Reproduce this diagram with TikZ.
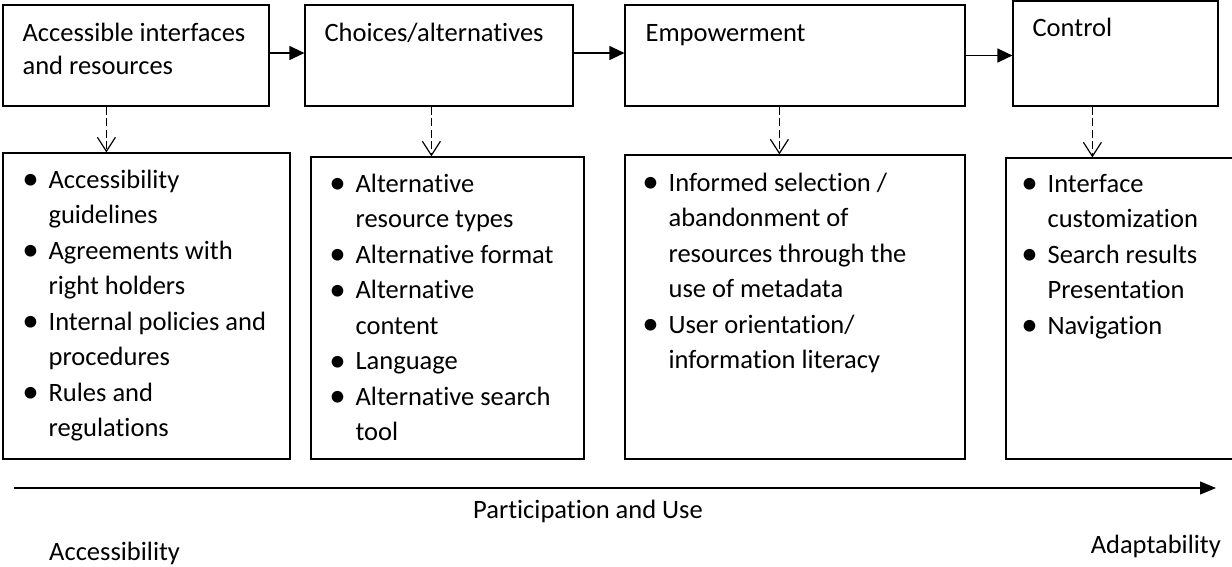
\documentclass[tikz,border=0pt]{standalone}
\usepackage{fontspec}
\setmainfont{Carlito}[Ligatures={NoCommon}]
\usetikzlibrary{arrows.meta,calc}
% bullet hung in the left margin of a list line
\newcommand\bul{\leavevmode\llap{\makebox[36pt][c]{\raisebox{-1.5pt}{\fontsize{33}{0}\selectfont\textbullet}}}}
\begin{document}
\begin{tikzpicture}[x=1pt,y=-1pt,
  box/.style={draw=black, line width=1.2pt, inner sep=0pt},
  head/.style={inner sep=0pt, anchor=base west, font=\fontsize{26.5}{33}\selectfont},
  items/.style={inner sep=0pt, anchor=base west, font=\fontsize{26.5}{35.5}\selectfont},
  lbl/.style={inner sep=0pt, font=\fontsize{26.5}{33}\selectfont},
  flow/.style={-{Triangle[length=15pt,width=14pt]}, line width=1.2pt},
  dep/.style={dash pattern=on 8pt off 3.5pt, line width=1.6pt,
    -{Straight Barb[length=14pt,width=18pt,line width=1.2pt]}},
]
\useasboundingbox (0,0) rectangle (1232,566);

% stage boxes
\node[box, minimum width=266pt, minimum height=101pt] (t1) at (136,55.5) {};
\node[box, minimum width=268pt, minimum height=101pt] (t2) at (439,55.5) {};
\node[box, minimum width=340pt, minimum height=101pt] (t3) at (795,55.5) {};
\node[box, minimum width=205pt, minimum height=105pt] (t4) at (1115.5,53.5) {};

\node[head] (t1txt) at ($(t1.north west)+(20,37)$) {\parbox[t]{260pt}{Accessible interfaces\\and resources}};
\node[head] (t2txt) at ($(t2.north west)+(20,37)$) {Choices/alternatives};
\node[head] (t3txt) at ($(t3.north west)+(21,37)$) {Empowerment};
\node[head] (t4txt) at ($(t4.north west)+(20,36)$) {Control};

% detail boxes
\node[box, minimum width=287pt, minimum height=306pt] (b1) at (146.5,306) {};
\node[box, minimum width=273pt, minimum height=302pt] (b2) at (447.5,308) {};
\node[box, minimum width=340pt, minimum height=304pt] (b3) at (795,307) {};
\node[box, minimum width=239pt, minimum height=301pt] (b4) at (1125.5,308.5) {};

\node[items] (b1txt) at ($(b1.north west)+(46,36)$) {\parbox[t]{250pt}{%
  \bul Accessibility\\guidelines\\
  \bul Agreements with\\right holders\\
  \bul Internal policies and\\procedures\\
  \bul Rules and\\regulations}};
\node[items] (b2txt) at ($(b2.north west)+(45,36)$) {\parbox[t]{250pt}{%
  \bul Alternative\\resource types\\
  \bul Alternative format\\
  \bul Alternative\\content\\
  \bul Language\\
  \bul Alternative search\\tool}};
\node[items] (b3txt) at ($(b3.north west)+(44,37)$) {\parbox[t]{290pt}{%
  \bul Informed selection /\\abandonment of\\resources through the\\use of metadata\\
  \bul User orientation/\\information literacy}};
\node[items] (b4txt) at ($(b4.north west)+(42,35)$) {\parbox[t]{200pt}{%
  \bul Interface\\customization\\
  \bul Search results\\Presentation\\
  \bul Navigation}};

% sequence between stages
\draw[flow] ($(t1.east)+(0,-2.5)$) -- ($(t1.east -| t2.west)+(0,-2.5)$);
\draw[flow] ($(t2.east)+(0,-2.5)$) -- ($(t2.east -| t3.west)+(0,-2.5)$);
\draw[flow] (t3.east) -- (t3.east -| t4.west);

% stage to details
\coordinate (d1) at ($(t1.south west)+(104,0)$);
\coordinate (d2) at ($(t2.south west)+(127,0)$);
\coordinate (d3) at ($(t3.south west)+(155,0)$);
\coordinate (d4) at ($(t4.south west)+(80,0)$);
\draw[dep] (d1) -- (d1 |- b1.north);
\draw[dep] (d2) -- (d2 |- b2.north);
\draw[dep] (d3) -- (d3 |- b3.north);
\draw[dep] (d4) -- (d4 |- b4.north);

% axis
\coordinate (axL) at (14,488);
\coordinate (axR) at (1216,488);
\draw[-{Triangle[length=16pt,width=13pt]}, line width=1.2pt] (axL) -- (axR);
\node[lbl, anchor=base] (pu) at (588,518) {Participation and Use};
\node[lbl, anchor=base west] (acc) at (49,560) {Accessibility};
\node[lbl, anchor=base east] (ada) at (1221,553) {Adaptability};
\end{tikzpicture}
\end{document}
